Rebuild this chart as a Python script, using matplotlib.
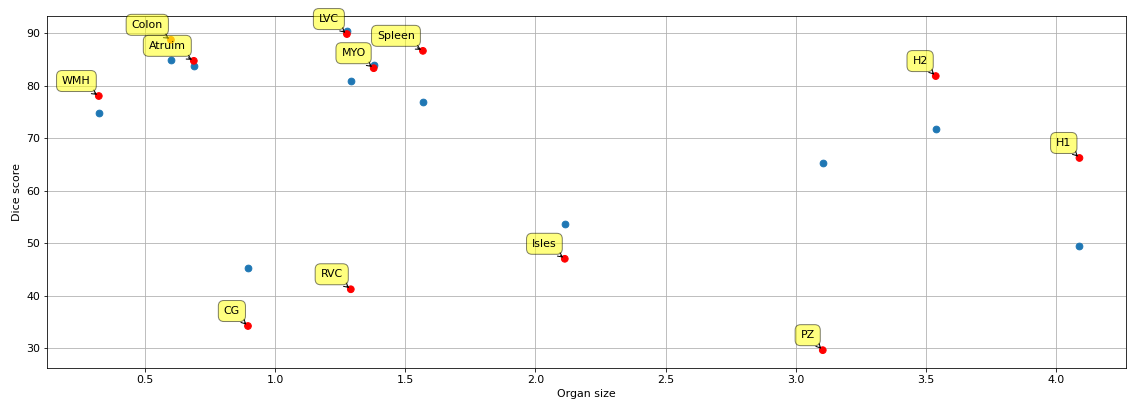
import numpy as np
import matplotlib
matplotlib.use('Agg')
import matplotlib.pyplot as plt

# Organ names, sizes and the two sets of dice scores.
organs = ['WMH', 'Colon', 'Atruim', 'CG', 'LVC', 'MYO', 'RVC', 'Spleen', 'Isles', 'PZ', 'H2', 'H1']
size = [0.323, 0.600, 0.688, 0.896, 1.276, 1.379, 1.291, 1.568, 2.113, 3.104, 3.538, 4.090]
dice_a = [74.8, 84.9, 83.7, 45.2, 90.3, 84.0, 80.9, 76.9, 53.6, 65.2, 71.7, 49.4]
dice_b = [78.0, 88.7, 84.7, 34.2, 89.8, 83.3, 41.2, 86.6, 47.0, 29.6, 81.8, 66.2]
colors_b = ['red', 'C1', 'red', 'red', 'red', 'red', 'red', 'red', 'red', 'red', 'red', 'red']

plt.rcParams['font.size'] = 11
fig = plt.figure(figsize=(1127/72, 403/72), dpi=72)
ax = fig.add_axes([0.0417, 0.0868, 0.957, 0.873])
ax.scatter(size, dice_a, s=45, color='C0')
ax.scatter(size, dice_b, s=45, c=colors_b)
for lab, x, y in zip(organs, size, dice_b):
    ax.annotate(lab, xy=(x, y), xytext=(-8, 10), textcoords='offset points',
                ha='right', va='bottom', fontsize=11,
                bbox=dict(boxstyle='round,pad=0.5', fc='yellow', alpha=0.5),
                arrowprops=dict(arrowstyle='->', connectionstyle='arc3,rad=0'))
ax.set_xlim(0.124, 4.267)
ax.set_ylim(26.2, 93.2)
ax.grid(True)
ax.set_axisbelow(True)
ax.set_xlabel('Organ size')
ax.set_ylabel('Dice score')
fig.savefig('out.png', dpi=72)
